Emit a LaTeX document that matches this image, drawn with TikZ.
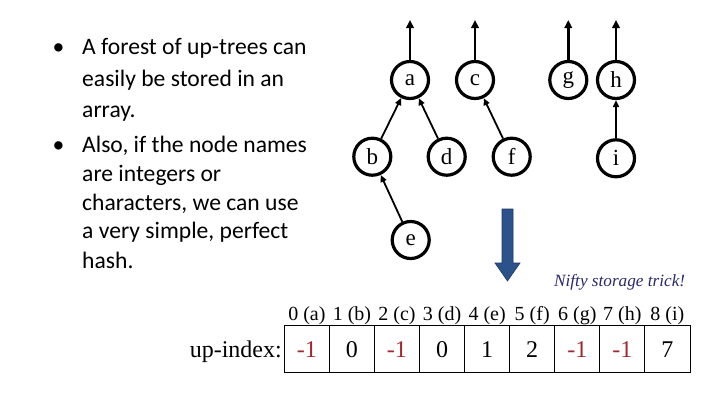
\documentclass[tikz,border=0pt]{standalone}
\usepackage{fontspec}
\setmainfont{Liberation Serif}
\newfontfamily\calib{Carlito}
\usetikzlibrary{arrows.meta}
\definecolor{valred}{RGB}{160,40,48}
\definecolor{arrblue}{RGB}{44,82,140}
\definecolor{arrborder}{RGB}{30,55,100}
\definecolor{niftyblue}{RGB}{40,40,110}
\tikzset{
  tnode/.style={circle,draw=black,line width=3.2pt,minimum size=37pt,inner sep=0pt,font=\fontsize{23}{23}\selectfont},
  uparr/.style={line width=2.4pt,-{Triangle[width=7.5pt,length=8pt]}},
  tedge/.style={line width=1.8pt,-{Triangle[width=6pt,length=7pt]}},
  bline/.style={anchor=base west,inner sep=0pt,font=\calib\fontsize{23.6}{23.6}\selectfont},
  bdot/.style={anchor=base,inner sep=0pt,font=\calib\fontsize{23.6}{23.6}\selectfont},
  cell/.style={draw=black,line width=0.8pt,minimum width=45.07pt,minimum height=47pt,inner sep=0pt,font=\fontsize{24}{24}\selectfont},
  idx/.style={anchor=base,inner sep=0pt,font=\fontsize{20}{20}\selectfont},
}
\begin{document}
\begin{tikzpicture}[x=1pt,y=-1pt]
\useasboundingbox (0,0) rectangle (712,400);
% bullets
\node[bdot] (d1) at (58.5,54) {•};
\node[bline] (l1) at (82,54) {A forest of up-trees can};
\node[bline] (l2) at (82,86) {easily be stored in an};
\node[bline] (l3) at (82,117) {array.};
\node[bdot] (d2) at (58.5,152) {•};
\node[bline] (l4) at (82,152) {Also, if the node names};
\node[bline] (l5) at (82,181.5) {are integers or};
\node[bline] (l6) at (82,210) {characters, we can use};
\node[bline] (l7) at (82,238.5) {a very simple, perfect};
\node[bline] (l8) at (82,268) {hash.};
% tree nodes
\node[tnode] (a) at (410,80) {a};
\node[tnode] (c) at (475,80) {c};
\node[tnode] (g) at (568.3,80) {g};
\node[tnode] (h) at (616,80) {h};
\node[tnode] (b) at (372.3,156.7) {b};
\node[tnode] (d) at (446.7,156.7) {d};
\node[tnode] (f) at (511.7,156.7) {f};
\node[tnode] (i) at (616,158.3) {i};
\node[tnode] (e) at (410.7,240) {e};
\coordinate (ta) at (410,20);
\coordinate (tc) at (475,20);
\coordinate (tg) at (568.3,20);
\coordinate (th) at (616,20);
\draw[uparr] (a) -- (ta);
\draw[uparr] (c) -- (tc);
\draw[uparr] (g) -- (tg);
\draw[uparr] (h) -- (th);
\draw[tedge] (b) -- (a);
\draw[tedge] (d) -- (a);
\draw[tedge] (f) -- (c);
\draw[tedge] (e) -- (b);
\draw[tedge] (i) -- (h);
% big arrow
\filldraw[fill=arrblue,draw=arrborder,line width=0.6pt]
  (502,209) -- (513,209) -- (513,263) -- (520,263) -- (507.5,281) -- (495,263) -- (502,263) -- cycle;
\node[anchor=west,inner sep=0pt,text=niftyblue,font=\itshape\fontsize{17.2}{17.2}\selectfont] (nifty) at (554,282) {Nifty storage trick!};
% array
\foreach \v/\lab/\col [count=\k from 0] in {-1/a/valred,0/b/black,-1/c/valred,0/d/black,1/e/black,2/f/black,-1/g/valred,-1/h/valred,7/i/black}{
  \node[cell] (c\k) at ({306.85+45.07*\k},348.5) {};
  \node[idx] (x\k) at ({306.85+45.07*\k},320) {\k\ (\lab)};
  \node[anchor=base,inner sep=0pt,text=\col,font=\fontsize{24}{24}\selectfont] (v\k) at ({306.85+45.07*\k},357) {\v};
}
\node[anchor=base east,inner sep=0pt,font=\fontsize{24}{24}\selectfont] (lab) at (282,357) {up-index:};
\end{tikzpicture}
\end{document}
